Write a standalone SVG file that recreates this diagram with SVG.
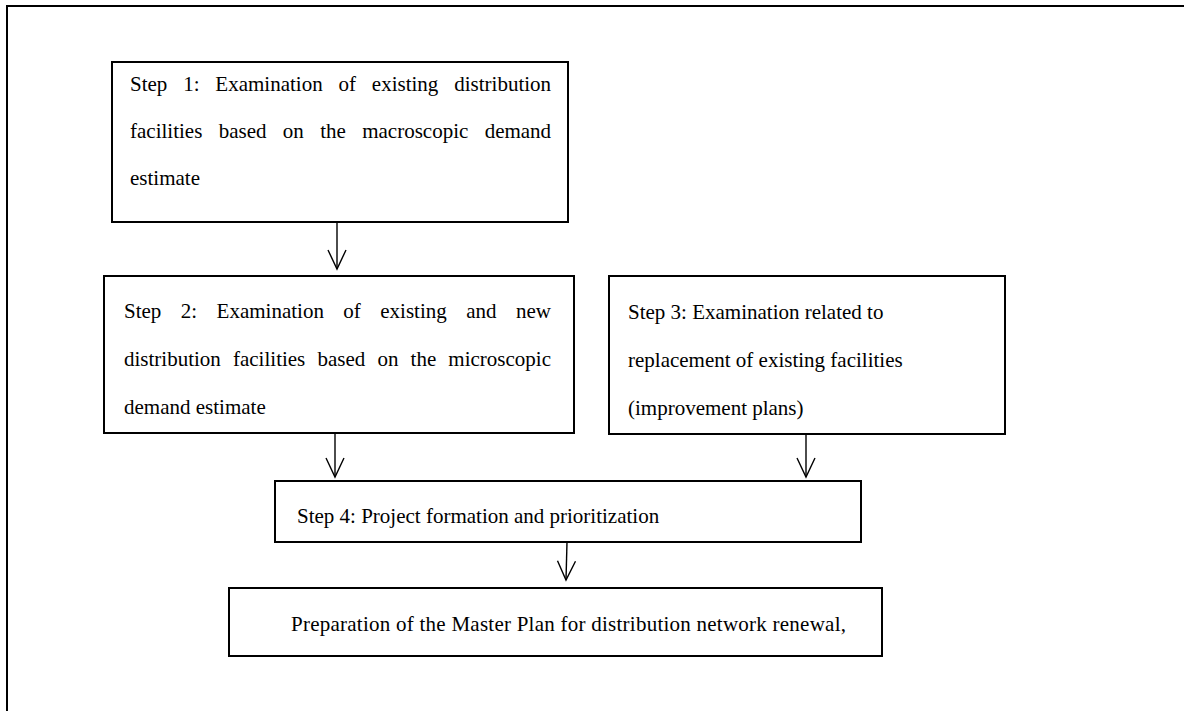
<svg xmlns="http://www.w3.org/2000/svg" width="1184" height="711" viewBox="0 0 1184 711">
<style>
.box{fill:#fff;stroke:#000;stroke-width:2}
.t{font-family:"Liberation Serif","Times New Roman",serif;font-size:21px;fill:#000}
.c{stroke:#000;stroke-width:1.4;fill:none}
.frame{stroke:#000;stroke-width:2;fill:none}
</style>
<defs>
<marker id="v" viewBox="-21 -11 23 22" refX="0" refY="0" markerWidth="23" markerHeight="22" markerUnits="userSpaceOnUse" orient="auto" overflow="visible">
<path d="M-19,-9 L0,0 L-19,9" fill="none" stroke="#000" stroke-width="1.4"/>
</marker>
</defs>
<rect width="1184" height="711" fill="#fff"/>
<g id="frame">
<path class="frame" d="M7,711 V6 H1184"/>
</g>
<g id="connectors">
<path class="c" d="M337,222 V269" marker-end="url(#v)"/>
<path class="c" d="M335,433 V477" marker-end="url(#v)"/>
<path class="c" d="M806,434 V477" marker-end="url(#v)"/>
<path class="c" d="M567,542 L566,580" marker-end="url(#v)"/>
</g>
<g id="step1">
<rect class="box" x="112" y="62" width="456" height="160"/>
<text class="t" x="130" y="91" word-spacing="10.6">Step 1: Examination of existing distribution</text>
<text class="t" x="130" y="138" word-spacing="11.1">facilities based on the macroscopic demand</text>
<text class="t" x="130" y="185">estimate</text>
</g>
<g id="step2">
<rect class="box" x="104" y="276" width="470" height="157"/>
<text class="t" x="124" y="318" word-spacing="14.2">Step 2: Examination of existing and new</text>
<text class="t" x="124" y="366" word-spacing="6.9">distribution facilities based on the microscopic</text>
<text class="t" x="124" y="414">demand estimate</text>
</g>
<g id="step3">
<rect class="box" x="609" y="276" width="396" height="158"/>
<text class="t" x="628" y="319">Step 3: Examination related to</text>
<text class="t" x="628" y="367">replacement of existing facilities</text>
<text class="t" x="628" y="415">(improvement plans)</text>
</g>
<g id="step4">
<rect class="box" x="275" y="481" width="586" height="61"/>
<text class="t" x="297" y="523">Step 4: Project formation and prioritization</text>
</g>
<g id="masterplan">
<rect class="box" x="229" y="588" width="653" height="68"/>
<text class="t" x="291" y="631" textLength="555" lengthAdjust="spacing">Preparation of the Master Plan for distribution network renewal,</text>
</g>
</svg>
